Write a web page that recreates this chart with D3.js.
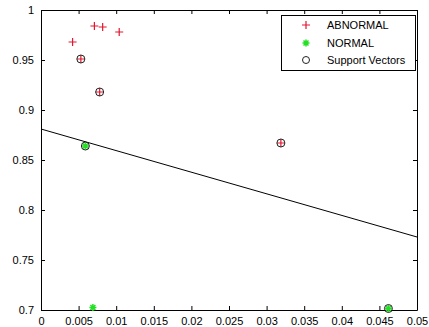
<!DOCTYPE html>
<html>
<head>
<meta charset="utf-8">
<script src="https://cdn.jsdelivr.net/npm/d3@7"></script>
<style>
  body { margin: 0; background: #fff; }
  text { font-family: "Liberation Sans", Arial, sans-serif; font-size: 11px; fill: #000; }
</style>
</head>
<body>
<svg></svg>
<script>
// data
let abnormalX = [0.0042, 0.0071, 0.0082, 0.0104, 0.0053, 0.0078, 0.0319];
let abnormalY = [0.968, 0.984, 0.983, 0.978, 0.951, 0.918, 0.867];
let normalX = [0.0059, 0.0069, 0.0462];
let normalY = [0.864, 0.7025, 0.7015];
let svX = [0.0053, 0.0078, 0.0319, 0.0059, 0.0462];
let svY = [0.951, 0.918, 0.867, 0.864, 0.7015];
let lineX = [0, 0.05];
let lineY = [0.881, 0.773];
let xTicks = [0, 0.005, 0.01, 0.015, 0.02, 0.025, 0.03, 0.035, 0.04, 0.045, 0.05];
let yTicks = [0.7, 0.75, 0.8, 0.85, 0.9, 0.95, 1];
let legendLabels = ["ABNORMAL", "NORMAL", "Support Vectors"];

let width = 429;
let height = 327;
let padLeft = 41, padRight = 417, padTop = 10, padBottom = 310;

let red = "#e3172f";
let green = "#22e022";

let svg = d3.select("svg").attr("width", width).attr("height", height);

let xScale = d3.scaleLinear().domain([0, 0.05]).range([padLeft, padRight]);
let yScale = d3.scaleLinear().domain([0.7, 1]).range([padBottom, padTop]);

// axes (ticks pointing inwards, box on all sides)
let fmt = d => String(+d.toFixed(3));
svg.append("g")
   .attr("transform", "translate(0," + padBottom + ")")
   .call(d3.axisBottom(xScale).tickValues(xTicks).tickSizeInner(-4).tickSizeOuter(0).tickPadding(7).tickFormat(fmt));
svg.append("g")
   .attr("transform", "translate(0," + padTop + ")")
   .call(d3.axisTop(xScale).tickValues(xTicks).tickSizeInner(-4).tickSizeOuter(0).tickFormat(""));
svg.append("g")
   .attr("transform", "translate(" + padLeft + ",0)")
   .call(d3.axisLeft(yScale).tickValues(yTicks).tickSizeInner(-4).tickSizeOuter(0).tickPadding(7).tickFormat(fmt));
svg.append("g")
   .attr("transform", "translate(" + padRight + ",0)")
   .call(d3.axisRight(yScale).tickValues(yTicks).tickSizeInner(-4).tickSizeOuter(0).tickFormat(""));
svg.selectAll(".domain").attr("stroke", "#000");
svg.selectAll(".tick line").attr("stroke", "#000");
svg.selectAll(".tick text").style("font-size", "11px").style("font-family", "Liberation Sans, Arial, sans-serif");

// separating line
let lineData = lineX.map((x, i) => [x, lineY[i]]);
svg.append("path")
   .datum(lineData)
   .attr("fill", "none")
   .attr("stroke", "#000")
   .attr("stroke-width", 1)
   .attr("d", d3.line().x(d => xScale(d[0])).y(d => yScale(d[1])));

// marker helpers
let plusPath = (cx, cy, s) => "M" + (cx - s) + "," + cy + "H" + (cx + s) + "M" + cx + "," + (cy - s) + "V" + (cy + s);
let starPath = (cx, cy, s) => {
  let d = "";
  for (let k = 0; k < 4; k++) {
    let a = k * Math.PI / 4;
    d += "M" + (cx - s * Math.cos(a)) + "," + (cy - s * Math.sin(a)) + "L" + (cx + s * Math.cos(a)) + "," + (cy + s * Math.sin(a));
  }
  return d;
};

let abnormal = abnormalX.map((x, i) => [x, abnormalY[i]]);
let normal = normalX.map((x, i) => [x, normalY[i]]);
let sv = svX.map((x, i) => [x, svY[i]]);

svg.selectAll(".abn")
   .data(abnormal)
   .enter()
   .append("path")
   .attr("class", "abn")
   .attr("stroke", red)
   .attr("stroke-width", 1.2)
   .attr("d", d => plusPath(xScale(d[0]), yScale(d[1]), 4));

svg.selectAll(".nor")
   .data(normal)
   .enter()
   .append("path")
   .attr("class", "nor")
   .attr("stroke", green)
   .attr("stroke-width", 1.5)
   .attr("d", d => starPath(xScale(d[0]), yScale(d[1]), 3.5));

svg.selectAll(".sv")
   .data(sv)
   .enter()
   .append("circle")
   .attr("class", "sv")
   .attr("cx", d => xScale(d[0]))
   .attr("cy", d => yScale(d[1]))
   .attr("r", 4)
   .attr("fill", "none")
   .attr("stroke", "#222")
   .attr("stroke-width", 1);

// legend
let legend = svg.append("g");
legend.append("rect")
   .attr("x", 281.5).attr("y", 15.5)
   .attr("width", 134).attr("height", 55)
   .attr("fill", "#fff").attr("stroke", "#000");
let legY = [25, 43, 60];
legend.append("path").attr("stroke", red).attr("stroke-width", 1.2).attr("d", plusPath(306, legY[0], 4));
legend.append("path").attr("stroke", green).attr("stroke-width", 1.5).attr("d", starPath(306, legY[1], 3.5));
legend.append("circle").attr("cx", 306).attr("cy", legY[2]).attr("r", 3.5).attr("fill", "none").attr("stroke", "#222");
legend.selectAll("text")
   .data(legendLabels)
   .enter()
   .append("text")
   .attr("x", 327)
   .attr("y", (d, i) => legY[i] + 4)
   .text(d => d);
</script>
</body>
</html>
